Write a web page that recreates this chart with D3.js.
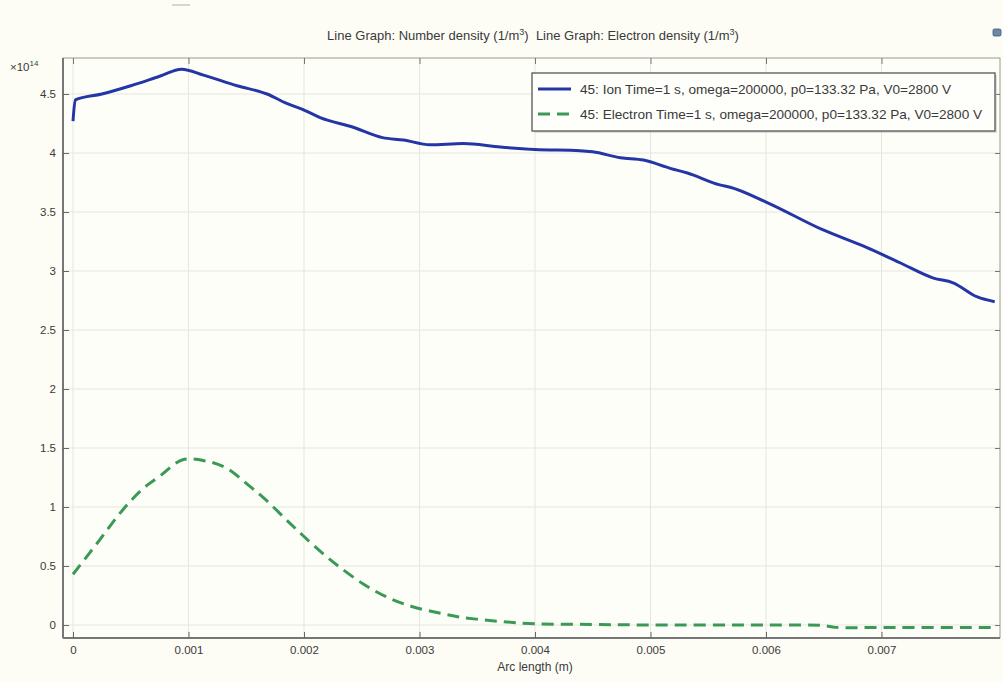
<!DOCTYPE html>
<html>
<head>
<meta charset="utf-8">
<script src="https://cdn.jsdelivr.net/npm/d3@7"></script>
<style>
  html, body { margin: 0; padding: 0; background: #fdfdf6; }
  svg { display: block; }
  text { font-family: "Liberation Sans", Arial, sans-serif; fill: #3a3a3a; }
</style>
</head>
<body>
<svg id="chart" width="1003" height="682"></svg>
<script>
// Arc length (m) and densities in units of 1e14 1/m^3
const ionX = [0, 0.00002, 0.00025, 0.0005, 0.00075, 0.00094, 0.00113, 0.00142, 0.00168, 0.00185,
  0.00201, 0.00214, 0.00242, 0.00268, 0.00286, 0.00309, 0.00338, 0.0037, 0.004, 0.00439,
  0.0045, 0.00474, 0.00494, 0.00517, 0.00532, 0.0056, 0.00569, 0.00601, 0.00649, 0.00687,
  0.00716, 0.00745, 0.00762, 0.00783, 0.00798];
const ionY = [4.27, 4.45, 4.50, 4.57, 4.65, 4.71, 4.66, 4.57, 4.50, 4.42,
  4.36, 4.30, 4.22, 4.13, 4.11, 4.07, 4.08, 4.05, 4.03, 4.02,
  4.01, 3.96, 3.94, 3.87, 3.83, 3.73, 3.71, 3.58, 3.35, 3.20,
  3.07, 2.94, 2.90, 2.78, 2.74];

const elecX = [0, 0.00023, 0.00043, 0.0006, 0.00075, 0.00095, 0.00115, 0.00133, 0.0015, 0.00167,
  0.00187, 0.002, 0.00217, 0.00231, 0.00251, 0.00271, 0.00294, 0.00318, 0.00333, 0.00349,
  0.0037, 0.004, 0.0045, 0.005, 0.006, 0.0065, 0.0066, 0.007, 0.00798];
const elecY = [0.43, 0.72, 0.975, 1.15, 1.26, 1.40, 1.39, 1.33, 1.20, 1.06,
  0.87, 0.75, 0.60, 0.49, 0.35, 0.24, 0.155, 0.10, 0.07, 0.05,
  0.03, 0.01, 0.005, 0.0, 0.0, -0.005, -0.02, -0.02, -0.02];

const xTicks = [0, 0.001, 0.002, 0.003, 0.004, 0.005, 0.006, 0.007];
const yTicks = [0, 0.5, 1, 1.5, 2, 2.5, 3, 3.5, 4, 4.5];

const seriesNames = [
  "45: Ion Time=1 s, omega=200000, p0=133.32 Pa, V0=2800 V",
  "45: Electron Time=1 s, omega=200000, p0=133.32 Pa, V0=2800 V"
];
const titleText = ["Line Graph: Number density (1/m", "3", ")\u00a0\u00a0Line Graph: Electron density (1/m", "3", ")"];

const svg = d3.select("#chart");
const plotL = 63, plotR = 1000, plotT = 58, plotB = 638;

const x = d3.scaleLinear().domain([-0.0000866, 0.008026]).range([plotL, plotR]);
const y = d3.scaleLinear().domain([-0.11, 4.805]).range([plotB, plotT]);

// plot background
svg.append("rect").attr("x", plotL).attr("y", plotT)
  .attr("width", plotR - plotL).attr("height", plotB - plotT)
  .attr("fill", "#fefef9");

// grid
svg.append("g").selectAll("line").data(xTicks).join("line")
  .attr("x1", d => x(d)).attr("x2", d => x(d))
  .attr("y1", plotT).attr("y2", plotB)
  .attr("stroke", "#e6e6de").attr("stroke-width", 1);
svg.append("g").selectAll("line").data(yTicks).join("line")
  .attr("x1", plotL).attr("x2", plotR)
  .attr("y1", d => y(d)).attr("y2", d => y(d))
  .attr("stroke", "#e6e6de").attr("stroke-width", 1);

// frame
svg.append("rect").attr("x", plotL).attr("y", plotT)
  .attr("width", plotR - plotL).attr("height", plotB - plotT)
  .attr("fill", "none").attr("stroke", "#9a9a94").attr("stroke-width", 1);
svg.append("line").attr("x1", plotL).attr("x2", plotL).attr("y1", plotT).attr("y2", plotB)
  .attr("stroke", "#777").attr("stroke-width", 2);
svg.append("line").attr("x1", plotL).attr("x2", plotR).attr("y1", plotB).attr("y2", plotB)
  .attr("stroke", "#777").attr("stroke-width", 2);

// axes with inward ticks
const xFmt = d => d === 0 ? "0" : d3.format(".3f")(d);
const yFmt = d => d === 0 ? "0" : String(d);

const xAxis = svg.append("g").attr("transform", `translate(0,${plotB})`)
  .call(d3.axisBottom(x).tickValues(xTicks).tickFormat(xFmt).tickSizeInner(-6).tickSizeOuter(0).tickPadding(8));
xAxis.select(".domain").remove();
xAxis.selectAll("line").attr("stroke", "#666");
xAxis.selectAll("text").attr("font-size", 11.5).attr("fill", "#3a3a3a")
  .style("font-family", "'Liberation Sans', Arial, sans-serif");

const xTop = svg.append("g").attr("transform", `translate(0,${plotT})`)
  .call(d3.axisTop(x).tickValues(xTicks).tickFormat("").tickSizeInner(-6).tickSizeOuter(0));
xTop.select(".domain").remove();
xTop.selectAll("line").attr("stroke", "#777");

const yAxis = svg.append("g").attr("transform", `translate(${plotL},0)`)
  .call(d3.axisLeft(y).tickValues(yTicks).tickFormat(yFmt).tickSizeInner(-6).tickSizeOuter(0).tickPadding(7));
yAxis.select(".domain").remove();
yAxis.selectAll("line").attr("stroke", "#666");
yAxis.selectAll("text").attr("font-size", 11.5).attr("fill", "#3a3a3a")
  .style("font-family", "'Liberation Sans', Arial, sans-serif");

const yRight = svg.append("g").attr("transform", `translate(${plotR},0)`)
  .call(d3.axisRight(y).tickValues(yTicks).tickFormat("").tickSizeInner(-5).tickSizeOuter(0));
yRight.select(".domain").remove();
yRight.selectAll("line").attr("stroke", "#777");

// scale multiplier label
const mult = svg.append("text").attr("x", 10).attr("y", 71).attr("font-size", 11.5);
mult.append("tspan").text("\u00d710");
mult.append("tspan").attr("dy", -5).attr("font-size", 8).text("14");

// title
const title = svg.append("text").attr("x", 533).attr("y", 40)
  .attr("text-anchor", "middle").attr("font-size", 13);
titleText.forEach((t, i) => {
  const ts = title.append("tspan").text(t);
  if (i % 2 === 1) ts.attr("font-size", 9).attr("dy", -5);
  else if (i > 0) ts.attr("dy", 5);
});

// small toolbar glyph in the corner
svg.append("rect").attr("x", 993).attr("y", 29).attr("width", 8).attr("height", 7)
  .attr("rx", 1.5).attr("fill", "#6a8aa8").attr("stroke", "#3d5670").attr("stroke-width", 0.8);
svg.append("line").attr("x1", 172).attr("x2", 190).attr("y1", 5).attr("y2", 5)
  .attr("stroke", "#c8c8c4").attr("stroke-width", 1.5);

// series
svg.append("clipPath").attr("id", "plotclip").append("rect")
  .attr("x", plotL).attr("y", plotT).attr("width", plotR - plotL).attr("height", plotB - plotT);

const ionLine = d3.line().x(d => x(d[0])).y(d => y(d[1])).curve(d3.curveMonotoneX);
const elecLine = d3.line().x(d => x(d[0])).y(d => y(d[1])).curve(d3.curveCatmullRom.alpha(0.5));
const ionData = d3.zip(ionX, ionY);
const elecData = d3.zip(elecX, elecY);

svg.append("path").datum(ionData).attr("d", ionLine)
  .attr("clip-path", "url(#plotclip)")
  .attr("fill", "none").attr("stroke", "#2436a6").attr("stroke-width", 3)
  .attr("stroke-linejoin", "round");
svg.append("path").datum(elecData).attr("d", elecLine)
  .attr("clip-path", "url(#plotclip)")
  .attr("fill", "none").attr("stroke", "#3a9a55").attr("stroke-width", 3)
  .attr("stroke-dasharray", "12,7");

// legend
const lg = svg.append("g");
lg.append("rect").attr("x", 534).attr("y", 75).attr("width", 463).attr("height", 58)
  .attr("fill", "#c8c8c4").attr("opacity", 0.6);
lg.append("rect").attr("x", 532).attr("y", 73).attr("width", 463).attr("height", 58)
  .attr("fill", "#fefefb").attr("stroke", "#555").attr("stroke-width", 1.3);
const legendItems = [
  { name: seriesNames[0], color: "#2436a6", dash: null, y: 89 },
  { name: seriesNames[1], color: "#3a9a55", dash: "12,7", y: 114 }
];
legendItems.forEach(it => {
  lg.append("line").attr("x1", 538).attr("x2", 571).attr("y1", it.y).attr("y2", it.y)
    .attr("stroke", it.color).attr("stroke-width", 3)
    .attr("stroke-dasharray", it.dash);
  lg.append("text").attr("x", 580).attr("y", it.y + 4.5).attr("font-size", 13.6).text(it.name);
});

// x-axis title
svg.append("text").attr("x", 535).attr("y", 671).attr("text-anchor", "middle")
  .attr("font-size", 12).text("Arc length (m)");
</script>
</body>
</html>
